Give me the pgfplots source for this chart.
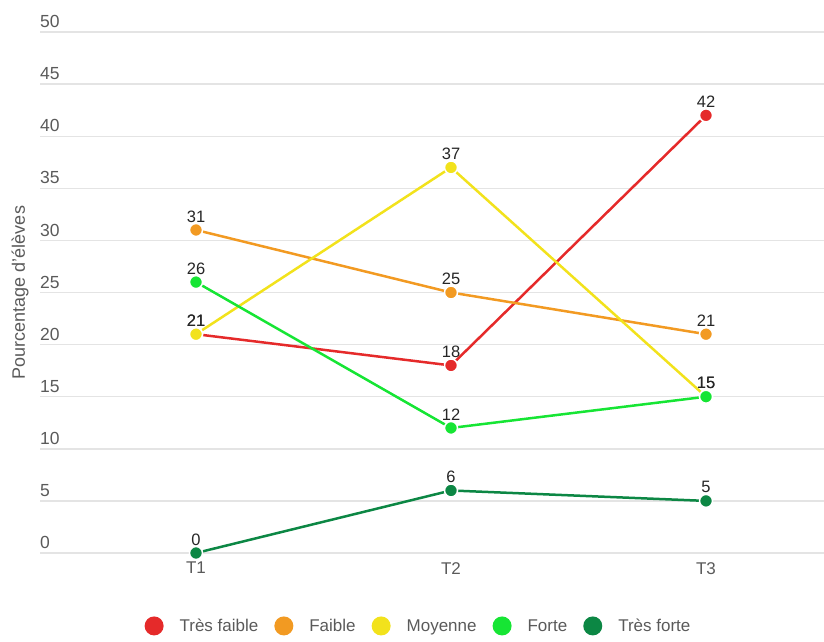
\documentclass[border=0pt]{standalone}
\usepackage{fontspec}
\setmainfont{Liberation Sans}
\usepackage{pgfplots}
\pgfplotsset{compat=1.18}
\definecolor{cRed}{HTML}{E52A2A}
\definecolor{cOrange}{HTML}{F29A22}
\definecolor{cYellow}{HTML}{F2E21C}
\definecolor{cLGreen}{HTML}{16E534}
\definecolor{cDGreen}{HTML}{0C8744}
\definecolor{gridgray}{HTML}{E4E4E4}
\definecolor{labgray}{HTML}{5A5A5A}
\definecolor{valgray}{HTML}{262626}
\begin{document}
\begin{tikzpicture}[x=1pt,y=1pt]
\useasboundingbox (0,0) rectangle (824,641);
\begin{axis}[
  at={(40pt,88pt)}, anchor=south west,
  scale only axis, width=784pt, height=521pt,
  xmin=-0.6118, xmax=2.4627, ymin=0, ymax=50,
  clip=false,
  /pgf/number format/assume math mode=true,
  xtick={0,1,2}, xticklabels={T1,T2,T3},
  ytick={0,5,...,50},
  ymajorgrids, grid style={draw=gridgray, line width=1.4pt},
  axis line style={draw=none}, major tick length=0pt,
  yticklabel style={anchor=south west, inner sep=0pt, yshift=4pt, font=\fontsize{17.5}{20}\selectfont, text=labgray},
  xticklabel style={anchor=north, inner sep=0pt, yshift=-9pt, font=\fontsize{17}{20}\selectfont, text=labgray},
  ylabel={Pourcentage d'élèves},
  every axis y label/.style={at={(axis description cs:-0.0255,0.5)}, rotate=90, anchor=center, font=\fontsize{18}{20}\selectfont, text=labgray},
  every axis plot/.append style={line width=2.5pt, mark=*, mark size=6.5pt, mark options={draw=white, line width=1.5pt}},
  nodes near coords,
  every node near coord/.append style={font=\fontsize{16.5}{18}\selectfont, text=valgray, anchor=south, inner sep=0pt, yshift=7pt},
  legend columns=5,
  legend style={at={(0.4815,-0.140)}, anchor=center, draw=none, fill=none,
    font=\fontsize{17}{20}\selectfont, text=labgray,
    nodes={inner sep=0pt},
    /tikz/every odd column/.append style={column sep=16pt},
    /tikz/every even column/.append style={column sep=16pt}},
  legend image code/.code={\fill[#1, draw=none] (9.5pt,0pt) circle (9.5pt);},
]
\addplot[color=cRed] coordinates {(0,21) (1,18) (2,42)};
\addlegendentry{Très faible}
\addplot[color=cOrange] coordinates {(0,31) (1,25) (2,21)};
\addlegendentry{Faible}
\addplot[color=cYellow] coordinates {(0,21) (1,37) (2,15)};
\addlegendentry{Moyenne}
\addplot[color=cLGreen] coordinates {(0,26) (1,12) (2,15)};
\addlegendentry{Forte}
\addplot[color=cDGreen] coordinates {(0,0) (1,6) (2,5)};
\addlegendentry{Très forte}
\end{axis}
\end{tikzpicture}
\end{document}
